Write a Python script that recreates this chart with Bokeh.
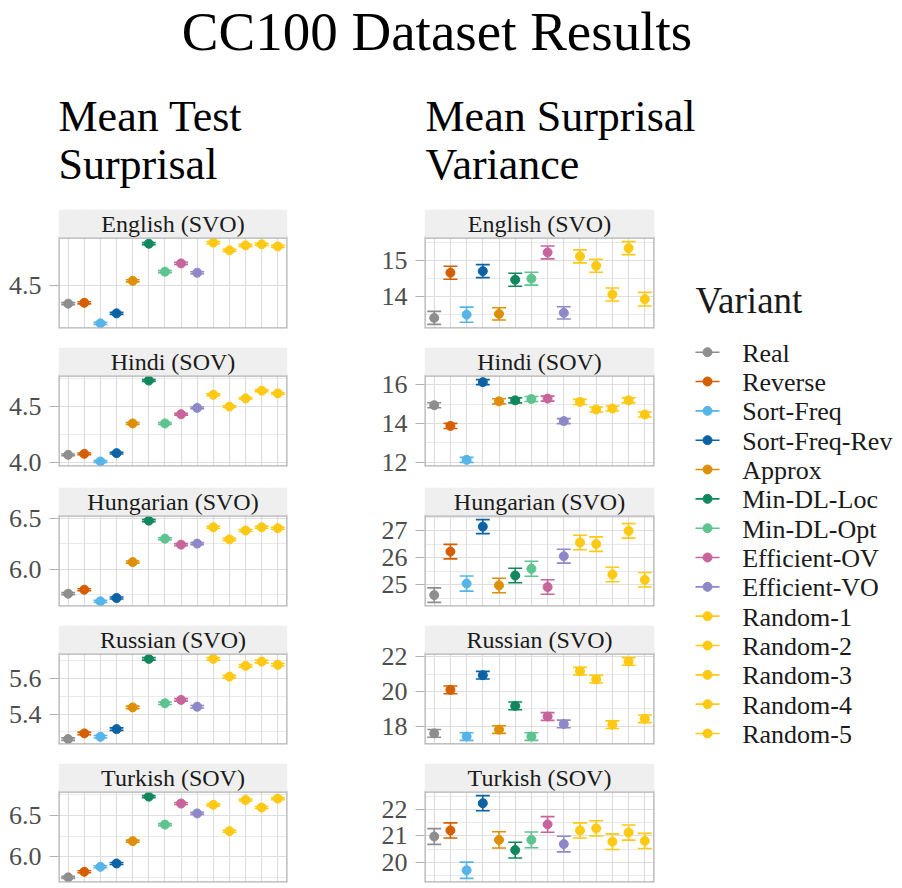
from bokeh.plotting import figure
from bokeh.layouts import row, column
from bokeh.models import ColumnDataSource, Range1d, FixedTicker, Grid, PrintfTickFormatter
from bokeh.core.properties import value
from bokeh.embed import file_html
from bokeh.resources import INLINE

# ---------------- data ----------------
variants = ["Real", "Reverse", "Sort-Freq", "Sort-Freq-Rev", "Approx", "Min-DL-Loc",
            "Min-DL-Opt", "Efficient-OV", "Efficient-VO", "Random-1", "Random-2",
            "Random-3", "Random-4", "Random-5"]
variant_colors = ["#8E8E8E", "#D55E00", "#56B4E9", "#0B62A4", "#DE8F05", "#11875D",
                  "#5DC48F", "#C8649C", "#8F88C8", "#FDC913", "#FDC913", "#FDC913",
                  "#FDC913", "#FDC913"]
languages = ["English (SVO)", "Hindi (SOV)", "Hungarian (SVO)", "Russian (SVO)", "Turkish (SOV)"]

# Mean test surprisal
surp_english = [4.414, 4.418, 4.319, 4.367, 4.524, 4.703, 4.568, 4.608, 4.563, 4.708, 4.671, 4.695, 4.700, 4.690]
surp_english_err = [0.005, 0.005, 0.005, 0.005, 0.005, 0.005, 0.005, 0.005, 0.005, 0.005, 0.005, 0.005, 0.005, 0.005]
surp_hindi = [4.065, 4.074, 4.005, 4.080, 4.348, 4.735, 4.348, 4.431, 4.488, 4.607, 4.500, 4.574, 4.643, 4.619]
surp_hindi_err = [0.008, 0.008, 0.008, 0.008, 0.008, 0.008, 0.008, 0.008, 0.008, 0.008, 0.008, 0.008, 0.008, 0.008]
surp_hungarian = [5.761, 5.800, 5.686, 5.719, 6.071, 6.477, 6.300, 6.242, 6.252, 6.412, 6.293, 6.380, 6.412, 6.403]
surp_hungarian_err = [0.010, 0.010, 0.010, 0.010, 0.010, 0.010, 0.010, 0.010, 0.010, 0.010, 0.010, 0.010, 0.010, 0.010]
surp_russian = [5.260, 5.292, 5.273, 5.316, 5.437, 5.708, 5.460, 5.479, 5.441, 5.708, 5.609, 5.669, 5.693, 5.675]
surp_russian_err = [0.007, 0.007, 0.007, 0.007, 0.007, 0.007, 0.007, 0.007, 0.007, 0.007, 0.007, 0.007, 0.007, 0.007]
surp_turkish = [5.754, 5.821, 5.881, 5.921, 6.190, 6.726, 6.389, 6.643, 6.524, 6.627, 6.310, 6.686, 6.595, 6.702]
surp_turkish_err = [0.012, 0.012, 0.012, 0.012, 0.012, 0.012, 0.012, 0.012, 0.012, 0.012, 0.012, 0.012, 0.012, 0.012]

# Mean surprisal variance
var_english = [13.41, 14.665, 13.50, 14.71, 13.52, 14.47, 14.50, 15.23, 13.55, 15.12, 14.86, 14.06, 15.35, 13.93]
var_english_err = [0.18, 0.18, 0.21, 0.18, 0.17, 0.18, 0.18, 0.18, 0.17, 0.18, 0.18, 0.18, 0.18, 0.19]
var_hindi = [14.95, 13.88, 12.13, 16.14, 15.15, 15.20, 15.27, 15.29, 14.13, 15.12, 14.73, 14.78, 15.20, 14.47]
var_hindi_err = [0.13, 0.13, 0.13, 0.13, 0.13, 0.13, 0.13, 0.13, 0.13, 0.13, 0.13, 0.13, 0.13, 0.13]
var_hungarian = [24.61, 26.23, 25.04, 27.16, 24.97, 25.34, 25.59, 24.91, 26.06, 26.57, 26.51, 25.38, 27.00, 25.18]
var_hungarian_err = [0.27, 0.27, 0.28, 0.26, 0.27, 0.27, 0.28, 0.27, 0.26, 0.27, 0.27, 0.27, 0.27, 0.27]
var_russian = [17.59, 20.09, 17.41, 20.93, 17.81, 19.17, 17.41, 18.56, 18.13, 21.16, 20.70, 18.09, 21.72, 18.43]
var_russian_err = [0.22, 0.22, 0.22, 0.22, 0.22, 0.22, 0.22, 0.22, 0.22, 0.22, 0.22, 0.22, 0.22, 0.22]
var_turkish = [20.98, 21.21, 19.69, 22.25, 20.85, 20.46, 20.85, 21.44, 20.69, 21.21, 21.29, 20.78, 21.13, 20.81]
var_turkish_err = [0.30, 0.29, 0.31, 0.29, 0.31, 0.30, 0.30, 0.30, 0.30, 0.29, 0.29, 0.30, 0.29, 0.29]

# y ticks (major / minor) per panel
surp_ticks = [[4.5], [4.0, 4.5], [6.0, 6.5], [5.4, 5.6], [6.0, 6.5]]
surp_minor = [[4.25, 4.75], [4.25, 4.75], [5.75, 6.25], [5.3, 5.5, 5.7], [5.75, 6.25, 6.75]]
var_ticks = [[14, 15], [12, 14, 16], [25, 26, 27], [18, 20, 22], [20, 21, 22]]
var_minor = [[13.5, 14.5, 15.5], [13, 15], [24.5, 25.5, 26.5, 27.5], [17, 19, 21], [19.5, 20.5, 21.5, 22.5]]

title_text = "CC100 Dataset Results"
col_titles = [["Mean Test", "Surprisal"], ["Mean Surprisal", "Variance"]]
legend_title = "Variant"

# ---------------- style ----------------
FONT = value("Liberation Serif")
STRIP_H = 28
PANEL_H = 91
ROW_GAPS = [19, 21, 19, 19, 6]
LEFT_B = 58
TOP_H = 209
BORDER = "#B3B3B3"
STRIP_FS = 24
STRIP_BASE = 22.4   # strip text baseline, px below strip top


def panel_fig(label, vals, errs, ticks, minor, fmt, width, right_b, gap):
    n = len(variants)
    xs = list(range(1, n + 1))
    x_lo, x_hi = 0.4, n + 0.6
    lo = [v - e for v, e in zip(vals, errs)]
    hi = [v + e for v, e in zip(vals, errs)]
    ymin, ymax = min(lo), max(hi)
    pad = 0.05 * (ymax - ymin)
    a_lim, b_lim = ymin - pad, ymax + pad
    upp = (b_lim - a_lim) / PANEL_H          # data units per pixel
    s_top = b_lim + STRIP_H * upp
    p = figure(width=width, height=STRIP_H + PANEL_H + gap,
               x_range=Range1d(x_lo, x_hi), y_range=Range1d(a_lim, s_top),
               x_axis_type=None, toolbar_location=None, output_backend="svg",
               min_border_left=LEFT_B, min_border_right=right_b,
               min_border_top=0, min_border_bottom=gap)
    p.background_fill_color = "white"
    p.border_fill_color = "white"
    p.outline_line_color = None

    p.add_layout(Grid(dimension=0, ticker=FixedTicker(ticks=xs),
                      grid_line_color="#DEDEDE", grid_line_width=1.2))
    yt = FixedTicker(ticks=ticks, minor_ticks=minor)
    ax = p.yaxis[0]
    ax.ticker = yt
    ax.formatter = PrintfTickFormatter(format=fmt)
    ax.axis_line_color = None
    ax.major_tick_out = 9
    ax.major_tick_in = 0
    ax.minor_tick_out = 0
    ax.minor_tick_in = 0
    ax.major_tick_line_color = BORDER
    ax.major_tick_line_width = 1.2
    ax.major_label_standoff = 8
    ax.major_label_text_font = "Liberation Serif"
    ax.major_label_text_font_size = "26px"
    ax.major_label_text_color = "#4D4D4D"
    g = p.ygrid[0]
    g.ticker = yt
    g.grid_line_color = "#DEDEDE"
    g.grid_line_width = 1.2
    g.minor_grid_line_color = "#E4E4E4"
    g.minor_grid_line_width = 0.8

    half = 0.43
    src = ColumnDataSource(dict(x=xs, y=vals, lo=lo, hi=hi, color=variant_colors,
                                cl=[x - half for x in xs], cr=[x + half for x in xs]))
    p.segment(x0="x", y0="lo", x1="x", y1="hi", line_color="color", line_width=1.6, source=src)
    p.segment(x0="cl", y0="lo", x1="cr", y1="lo", line_color="color", line_width=1.6, source=src)
    p.segment(x0="cl", y0="hi", x1="cr", y1="hi", line_color="color", line_width=1.6, source=src)
    p.scatter(x="x", y="y", size=9, fill_color="color", line_color="color", source=src)

    # panel border (outer half is clipped by the frame -> 1.3px visible)
    p.quad(left=[x_lo], right=[x_hi], bottom=[a_lim], top=[b_lim], fill_color=None,
           line_color=BORDER, line_width=2.6)
    # facet strip
    p.quad(left=[x_lo], right=[x_hi], bottom=[b_lim], top=[s_top], fill_color="#EFEFEF",
           line_color=None)
    p.text(x=[(x_lo + x_hi) / 2], y=[s_top - STRIP_BASE * upp], text=[label],
           text_font=FONT, text_font_size=f"{STRIP_FS}px", text_align="center",
           text_baseline="alphabetic", y_offset=-round(0.35 * STRIP_FS),
           text_color="#1A1A1A")
    return p


surp_vals = [surp_english, surp_hindi, surp_hungarian, surp_russian, surp_turkish]
surp_errs = [surp_english_err, surp_hindi_err, surp_hungarian_err, surp_russian_err, surp_turkish_err]
var_vals = [var_english, var_hindi, var_hungarian, var_russian, var_turkish]
var_errs = [var_english_err, var_hindi_err, var_hungarian_err, var_russian_err, var_turkish_err]

LW, LR = 366, 79
RW, RR = 300, 12
left_children, right_children = [], []
for i, lang in enumerate(languages):
    left_children.append(panel_fig(lang, surp_vals[i], surp_errs[i], surp_ticks[i], surp_minor[i],
                                   "%.1f", LW, LR, ROW_GAPS[i]))
    right_children.append(panel_fig(lang, var_vals[i], var_errs[i], var_ticks[i], var_minor[i],
                                    "%.0f", RW, RR, ROW_GAPS[i]))

# ---------------- top (title + column titles) ----------------
top = figure(width=902, height=TOP_H, x_range=Range1d(0, 902), y_range=Range1d(TOP_H, 0),
             x_axis_type=None, y_axis_type=None, toolbar_location=None, output_backend="svg",
             min_border=0)
top.outline_line_color = None
top.text(x=[436.5], y=[49.5], text=[title_text], text_font=FONT, text_font_size="55px",
         text_align="center", text_baseline="alphabetic", y_offset=-19, text_color="black")
top.text(x=[58, 58, 425, 425], y=[132, 180, 132, 180],
         text=[col_titles[0][0], col_titles[0][1], col_titles[1][0], col_titles[1][1]],
         text_font=FONT, text_font_size="44px", text_align="left",
         text_baseline="alphabetic", y_offset=-16, text_color="black")

# ---------------- legend ----------------
LEG_W = 902 - LW - RW
LEG_H = 888 - TOP_H
idx = list(range(len(variants)))
leg = figure(width=LEG_W, height=LEG_H, x_range=Range1d(0, LEG_W),
             y_range=Range1d(start=18.285, end=-4.865),
             x_axis_type=None, y_axis_type=None, toolbar_location=None,
             output_backend="svg", min_border=0)
leg.outline_line_color = None
leg.segment(x0=29, x1=53, y0=idx, y1=idx, line_color=variant_colors, line_width=1.6)
leg.scatter(x=41, y=idx, size=9, fill_color=variant_colors, line_color=variant_colors)
leg.text(x=75.7, y=idx, text=variants, text_font=FONT, text_font_size="26px",
         text_align="left", text_baseline="alphabetic", y_offset=1, text_color="#1A1A1A")
leg.text(x=[29], y=[-1.32], text=[legend_title], text_font=FONT, text_font_size="37px",
         text_align="left", text_baseline="alphabetic", y_offset=-13, text_color="#1A1A1A")

layout = column(top, row(column(*left_children), column(*right_children), leg))

open("out.html", "w").write(file_html(layout, INLINE))
